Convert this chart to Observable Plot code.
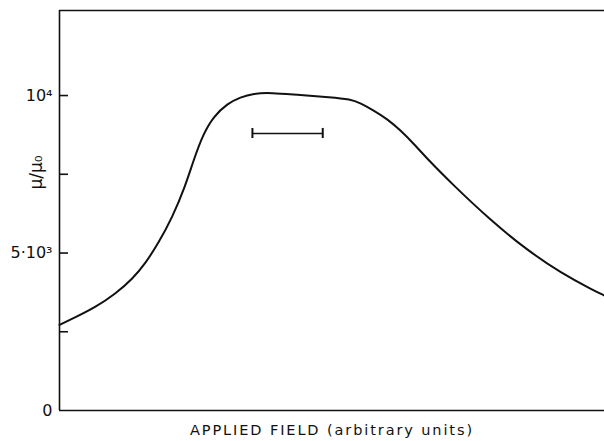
<!DOCTYPE html>
<html>
<head>
<meta charset="utf-8">
<script src="https://cdn.jsdelivr.net/npm/d3@7"></script>
<script src="https://cdn.jsdelivr.net/npm/@observablehq/plot@0.6"></script>
<style>
  html, body { margin: 0; padding: 0; background: #fff; }
  svg { display: block; }
  .xtitle text { letter-spacing: 1.9px; }
</style>
</head>
<body>
<div id="chart"></div>
<script>
// applied field (arbitrary units, 0–100) and relative permeability μ/μ0
const field = [0, 2.9, 6.6, 10.3, 13.4, 15.8, 18.2, 20.7, 23.1, 24.6, 26.4, 28.3, 30.8, 33.2, 35.6, 38.7, 44.2, 49.7, 53.4, 55.2, 57.6, 60.2, 62.6, 65.0, 67.7, 71.7, 79.1, 85.9, 91.9, 98.0, 100];
const mu    = [2720, 2960, 3280, 3710, 4180, 4680, 5330, 6130, 7130, 7950, 8790, 9340, 9745, 9950, 10065, 10095, 10010, 9950, 9880, 9760, 9530, 9250, 8890, 8470, 7950, 7250, 6035, 5080, 4380, 3810, 3650];

// error bar (field range and level)
const errX1 = 35.4, errX2 = 48.3, errY = 8795, errCap = 160;

const yMax = 12700;
const minorTicks = [2500, 5000, 7500, 10000];
const labelTicks = [0, 5000, 10000];
const tickLabels = {0: "0", 5000: "5·10³", 10000: "10⁴"};
const xTitle = "APPLIED FIELD (arbitrary units)";
const yTitle = "μ/μ₀";

const data = field.map((f, i) => ({f, m: mu[i]}));

const chart = Plot.plot({
  width: 604,
  height: 441,
  marginLeft: 59,
  marginRight: 0,
  marginTop: 10,
  marginBottom: 31,
  style: {fontFamily: "DejaVu Sans, sans-serif", color: "#111", background: "#fff"},
  x: {domain: [0, 100], axis: null},
  y: {domain: [0, yMax], axis: null},
  marks: [
    Plot.ruleY([0, yMax], {stroke: "#111", strokeWidth: 1.6}),
    Plot.ruleX([0], {stroke: "#111", strokeWidth: 1.6}),
    Plot.axisY({ticks: minorTicks, tickSize: -9, tickFormat: () => "", label: null, strokeWidth: 1.6, stroke: "#111"}),
    Plot.axisY({ticks: labelTicks, tickSize: 0, tickPadding: 7, tickFormat: d => tickLabels[d], label: null, fontSize: 16, fill: "#111"}),
    Plot.text([yTitle], {x: 0, y: 7556, dx: -23, rotate: -90, fontSize: 17, fill: "#111", text: d => d}),
    Plot.text([xTitle], {x: 50, y: 0, dy: 20, fontSize: 14.5, fill: "#111", text: d => d, className: "xtitle"}),
    Plot.line(data, {x: "f", y: "m", curve: "basis", stroke: "#111", strokeWidth: 2}),
    Plot.ruleY([errY], {x1: errX1, x2: errX2, stroke: "#111", strokeWidth: 1.5}),
    Plot.ruleX([errX1, errX2], {y1: errY - errCap, y2: errY + errCap, stroke: "#111", strokeWidth: 2})
  ]
});
document.getElementById("chart").appendChild(chart);
</script>
</body>
</html>
